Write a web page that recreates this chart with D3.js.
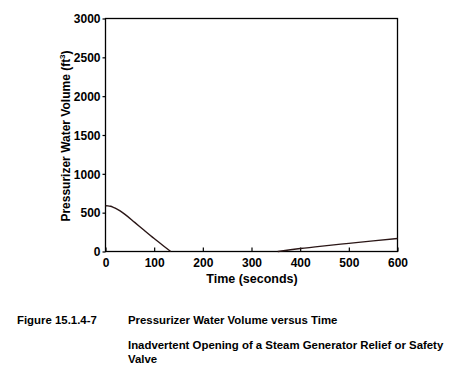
<!DOCTYPE html>
<html><head><meta charset="utf-8">
<script src="https://cdn.jsdelivr.net/npm/d3@7"></script>
<style>body{margin:0;background:#fff}svg text{font-family:"Liberation Sans",Arial,sans-serif;font-weight:bold;fill:#000}</style>
</head><body><svg id="c" width="468" height="392"></svg>
<script>
const timeDrop = [0, 5, 10, 15, 20, 30, 40, 60, 80, 100, 120, 134];
const volDrop = [590, 588, 582, 572, 558, 522, 478, 375, 270, 167, 68, 0];
const timeRise = [354, 380, 400, 450, 500, 550, 600];
const volRise = [0, 22, 38, 73, 105, 137, 168];
const xTicks = [0, 100, 200, 300, 400, 500, 600];
const yTicks = [0, 500, 1000, 1500, 2000, 2500, 3000];

const svg = d3.select("#c");
const x = d3.scaleLinear().domain([0, 600]).range([105.5, 397.5]);
const y = d3.scaleLinear().domain([0, 3000]).range([251.5, 18.5]);

svg.append("rect").attr("x", x(0)).attr("y", y(3000))
  .attr("width", x(600) - x(0)).attr("height", y(0) - y(3000))
  .attr("fill", "none").attr("stroke", "#000").attr("stroke-width", 1.3);

const xa = svg.append("g").attr("transform", `translate(0,${y(0)})`)
  .call(d3.axisBottom(x).tickValues(xTicks).tickSize(-4).tickPadding(7).tickFormat(d3.format("d")));
const ya = svg.append("g").attr("transform", `translate(${x(0)},0)`)
  .call(d3.axisLeft(y).tickValues(yTicks).tickSize(3).tickPadding(2).tickFormat(d3.format("d")));
[xa, ya].forEach(g => {
  g.select(".domain").remove();
  g.selectAll("line").attr("stroke", "#000").attr("stroke-width", 1.2);
  g.selectAll("text").style("font-size", "12px").style("font-family", "'Liberation Sans',Arial,sans-serif").style("font-weight", "bold");
});
ya.selectAll("text").attr("dy", "0.36em");

const line = d3.line().x(d => x(d[0])).y(d => y(d[1])).curve(d3.curveMonotoneX);
const seg1 = timeDrop.map((t, i) => [t, volDrop[i]]);
const seg2 = timeRise.map((t, i) => [t, volRise[i]]);
[seg1, seg2].forEach(s => svg.append("path").attr("d", line(s))
  .attr("fill", "none").attr("stroke", "#2a1616").attr("stroke-width", 1.4));

svg.append("text").attr("x", 252).attr("y", 283).attr("text-anchor", "middle")
  .style("font-size", "12.5px").text("Time (seconds)");

const yl = svg.append("text").attr("transform", `translate(70,136) rotate(-90)`)
  .attr("text-anchor", "middle").style("font-size", "12px");
yl.append("tspan").text("Pressurizer Water Volume (ft");
yl.append("tspan").attr("dy", "-5").style("font-size", "8px").text("3");
yl.append("tspan").attr("dy", "5").text(")");

const cap = svg.append("g");
const cs = "11.4px";
cap.append("text").attr("x", 17).attr("y", 324).style("font-size", cs).text("Figure 15.1.4-7");
cap.append("text").attr("x", 128).attr("y", 324).style("font-size", cs).text("Pressurizer Water Volume versus Time");
cap.append("text").attr("x", 128).attr("y", 349).style("font-size", cs).text("Inadvertent Opening of a Steam Generator Relief or Safety");
cap.append("text").attr("x", 128).attr("y", 363).style("font-size", cs).text("Valve");
</script></body></html>
